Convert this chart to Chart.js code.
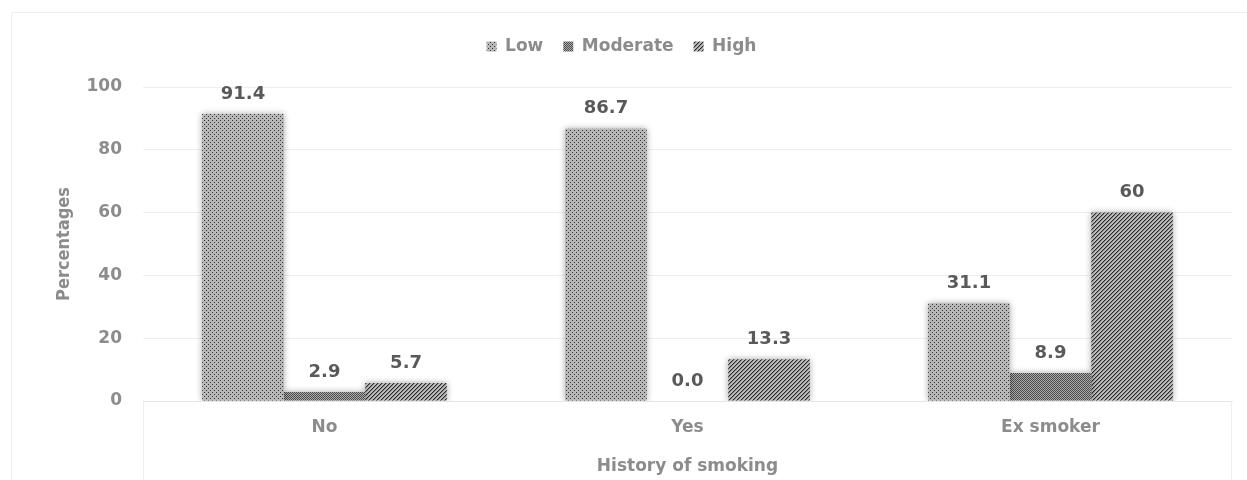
<!DOCTYPE html>
<html>
<head>
<meta charset="utf-8">
<script src="https://cdn.jsdelivr.net/npm/chart.js@4"></script>
<style>
  html, body { margin: 0; padding: 0; background: #ffffff; }
  #wrap { width: 1247px; height: 480px; }
</style>
</head>
<body>
<div id="wrap"><canvas id="chart" width="1247" height="480"></canvas></div>
<script>
// Smoking history categories and the share (%) in each risk level
const categories = ['No', 'Yes', 'Ex smoker'];
const lowValues = [91.4, 86.7, 31.1];
const moderateValues = [2.9, 0.0, 8.9];
const highValues = [5.7, 13.3, 60];
const yTicks = [0, 20, 40, 60, 80, 100];

const FONT = "'DejaVu Sans', Verdana, sans-serif";
const NARROW = "'DejaVu Sans Condensed', 'Liberation Sans Narrow', sans-serif";
const GREY_TEXT = '#8c8c8c';

// Small repeating tiles used as bar fills
function makePattern(size, paint) {
  const tile = document.createElement('canvas');
  tile.width = size; tile.height = size;
  const t = tile.getContext('2d');
  for (let y = 0; y < size; y++) {
    for (let x = 0; x < size; x++) {
      t.fillStyle = paint(x, y);
      t.fillRect(x, y, 1, 1);
    }
  }
  return document.createElement('canvas').getContext('2d').createPattern(tile, 'repeat');
}
const dotted = makePattern(4, (x, y) => ((x === 0 && y === 0) || (x === 2 && y === 2)) ? '#303030' : '#b8b8b8');
const checker = makePattern(2, (x, y) => ((x + y) % 2 === 0) ? '#4a4a4a' : '#acacac');
const striped = makePattern(4, (x, y) => {
  const k = (x + y) % 4;
  return k === 0 ? '#262626' : (k === 1 ? '#8a8a8a' : '#bababa');
});

const oneDecimal = v => v.toFixed(1);
const trimmed = v => Number.isInteger(v) && v !== 0 ? String(v) : v.toFixed(1);

// Soft shadow behind the bars
const barShadow = {
  id: 'barShadow',
  beforeDatasetDraw(chart) {
    const c = chart.ctx;
    c.save();
    c.shadowColor = 'rgba(0,0,0,0.35)';
    c.shadowBlur = 6;
    c.shadowOffsetX = 0;
    c.shadowOffsetY = 0;
  },
  afterDatasetDraw(chart) { chart.ctx.restore(); }
};

// Value labels above each bar
const valueLabels = {
  id: 'valueLabels',
  afterDatasetsDraw(chart) {
    const c = chart.ctx;
    c.save();
    c.font = 'bold 18px ' + FONT;
    c.fillStyle = '#595959';
    c.textAlign = 'center';
    c.textBaseline = 'middle';
    chart.data.datasets.forEach((ds, i) => {
      chart.getDatasetMeta(i).data.forEach((bar, j) => {
        c.fillText(ds.format(ds.data[j]), bar.x, bar.y - 20);
      });
    });
    c.restore();
  }
};

// Outer frame of the chart and the box under the category axis
const frame = {
  id: 'frame',
  beforeDraw(chart) {
    const c = chart.ctx;
    const a = chart.chartArea;
    c.save();
    c.fillStyle = '#ffffff';
    c.fillRect(0, 0, chart.width, chart.height);
    c.strokeStyle = '#efefef';
    c.lineWidth = 1;
    c.beginPath();
    c.moveTo(11.5, chart.height);
    c.lineTo(11.5, 12.5);
    c.lineTo(chart.width, 12.5);
    c.stroke();
    c.beginPath();
    c.moveTo(Math.round(a.left) + 0.5, a.bottom);
    c.lineTo(Math.round(a.left) + 0.5, chart.height);
    c.moveTo(Math.round(a.right) - 0.5, a.bottom);
    c.lineTo(Math.round(a.right) - 0.5, chart.height);
    c.stroke();
    c.restore();
  }
};

// Extra room between the legend and the plot
const legendRoom = {
  id: 'legendRoom',
  beforeInit(chart) {
    const legend = chart.legend;
    const fit = legend.fit;
    legend.fit = function () { fit.call(this); this.height += 22; };
  }
};

new Chart(document.getElementById('chart'), {
  type: 'bar',
  data: {
    labels: categories,
    datasets: [
      { label: 'Low', data: lowValues, backgroundColor: dotted, format: oneDecimal },
      { label: 'Moderate', data: moderateValues, backgroundColor: checker, format: oneDecimal },
      { label: 'High', data: highValues, backgroundColor: striped, format: trimmed }
    ]
  },
  options: {
    responsive: false,
    animation: false,
    layout: { padding: { left: 11, right: 15, top: 18, bottom: 0 } },
    datasets: {
      bar: { categoryPercentage: 0.674, barPercentage: 1.0, borderWidth: 0 }
    },
    plugins: {
      tooltip: { enabled: false },
      legend: {
        position: 'top',
        labels: {
          boxWidth: 10,
          boxHeight: 10,
          padding: 20,
          color: GREY_TEXT,
          font: { family: FONT, size: 17, weight: 'bold' }
        }
      }
    },
    scales: {
      x: {
        grid: { display: false },
        border: { display: true, color: '#e6e6e6' },
        ticks: {
          color: GREY_TEXT,
          padding: 8,
          font: { family: FONT, size: 17, weight: 'bold' }
        },
        title: {
          display: true,
          text: 'History of smoking',
          color: GREY_TEXT,
          padding: { top: 0, bottom: 3 },
          font: { family: FONT, size: 17, weight: 'bold' }
        },
        afterFit(scale) { scale.height = 79; }
      },
      y: {
        min: 0,
        max: 100,
        afterBuildTicks(scale) { scale.ticks = yTicks.map(v => ({ value: v })); },
        grid: { color: '#efefef', drawTicks: false },
        border: { display: false },
        ticks: {
          color: GREY_TEXT,
          padding: 21,
          font: { family: FONT, size: 17, weight: 'bold' }
        },
        title: {
          display: true,
          text: 'Percentages',
          color: GREY_TEXT,
          padding: { top: 43, bottom: 0 },
          font: { family: NARROW, size: 18, weight: 'bold' }
        },
        afterFit(scale) { scale.width = 132; }
      }
    }
  },
  plugins: [frame, legendRoom, barShadow, valueLabels]
});
</script>
</body>
</html>
